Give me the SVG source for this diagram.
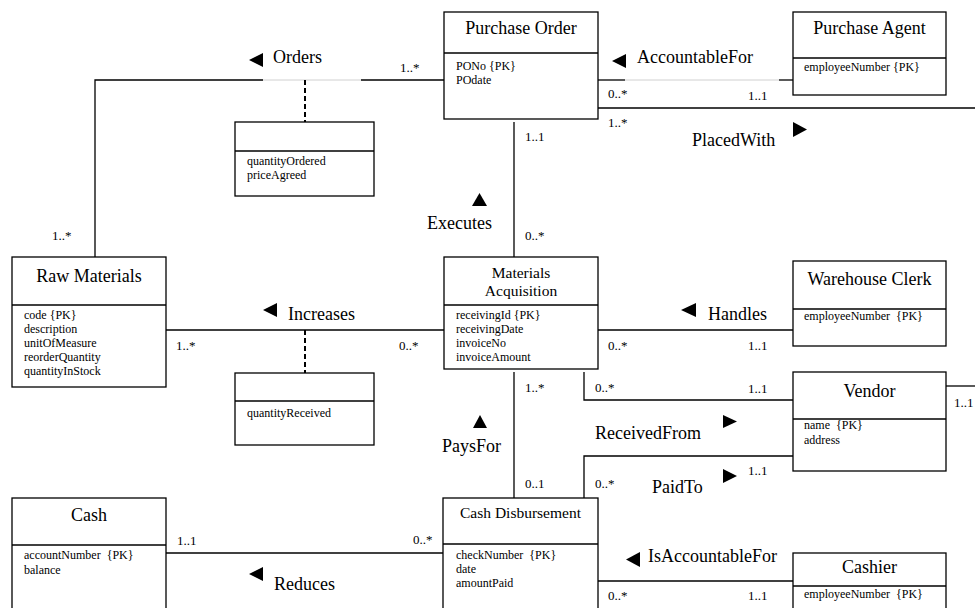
<svg xmlns="http://www.w3.org/2000/svg" width="975" height="608" viewBox="0 0 975 608">
  <style>
    text { font-family: "Liberation Serif", "Times New Roman", serif; fill: #000; }
    .box { fill: #fff; stroke: #000; stroke-width: 1.3; }
    .div { stroke: #000; stroke-width: 1.3; }
    .title { font-size: 18px; text-anchor: middle; }
    .title2 { font-size: 15.5px; text-anchor: middle; }
    .attr { font-size: 12px; }
    .mult { font-size: 13px; }
    .assoc { font-size: 18px; }
    .line { fill: none; stroke: #000; stroke-width: 1.3; }
    .faint { fill: none; stroke: #d0d0d0; stroke-width: 1; }
    .dash { fill: none; stroke: #000; stroke-width: 2; stroke-dasharray: 5 3; }
    .tri { fill: #000; }
  </style>

  <!-- association lines -->
  <g id="connectors">
    <!-- Orders: Raw Materials - Purchase Order -->
    <polyline class="line" points="95,257 95,80 263,80"/>
    <line class="faint" x1="263" y1="80" x2="361" y2="80"/>
    <line class="line" x1="361" y1="80" x2="444" y2="80"/>
    <line class="dash" x1="305" y1="80" x2="305" y2="122"/>
    <!-- AccountableFor -->
    <line class="line" x1="598" y1="80" x2="625" y2="80"/>
    <line class="faint" x1="625" y1="80" x2="779" y2="80"/>
    <line class="line" x1="779" y1="80" x2="793" y2="80"/>
    <!-- PlacedWith -->
    <line class="line" x1="598" y1="108" x2="975" y2="108"/>
    <!-- Executes -->
    <line class="line" x1="514" y1="122" x2="514" y2="257"/>
    <!-- Increases -->
    <line class="line" x1="166" y1="330" x2="444" y2="330"/>
    <line class="dash" x1="305" y1="330" x2="305" y2="373"/>
    <!-- Handles -->
    <line class="line" x1="598" y1="330" x2="793" y2="330"/>
    <!-- Vendor side of PlacedWith -->
    <line class="line" x1="946" y1="386" x2="975" y2="386"/>
    <!-- ReceivedFrom -->
    <polyline class="line" points="584,372 584,400 793,400"/>
    <!-- PaysFor -->
    <line class="line" x1="514" y1="372" x2="514" y2="498"/>
    <!-- PaidTo -->
    <polyline class="line" points="584,498 584,456 793,456"/>
    <!-- Reduces -->
    <line class="line" x1="166" y1="553" x2="443" y2="553"/>
    <!-- IsAccountableFor -->
    <line class="line" x1="598" y1="581" x2="793" y2="581"/>

    <!-- reading-direction triangles -->
    <polygon class="tri" points="249,60 263,53 263,67"/>
    <polygon class="tri" points="612,61 626,54 626,68"/>
    <polygon class="tri" points="793,122 807,129.5 793,137"/>
    <polygon class="tri" points="479.5,193 472,206 487,206"/>
    <polygon class="tri" points="263,310 277,303 277,317"/>
    <polygon class="tri" points="681,310 696,303 696,317"/>
    <polygon class="tri" points="723,415 737,421.5 723,428"/>
    <polygon class="tri" points="480,415 473,428 487,428"/>
    <polygon class="tri" points="723,469 737,476 723,483"/>
    <polygon class="tri" points="249,574 263,567 263,581"/>
    <polygon class="tri" points="626,559.5 640,552 640,567"/>

    <!-- association names -->
    <text class="assoc" x="273" y="63">Orders</text>
    <text class="assoc" x="637" y="63">AccountableFor</text>
    <text class="assoc" x="692" y="146">PlacedWith</text>
    <text class="assoc" x="427" y="229">Executes</text>
    <text class="assoc" x="288" y="320">Increases</text>
    <text class="assoc" x="708" y="320">Handles</text>
    <text class="assoc" x="595" y="439">ReceivedFrom</text>
    <text class="assoc" x="442" y="452">PaysFor</text>
    <text class="assoc" x="652" y="493">PaidTo</text>
    <text class="assoc" x="274" y="590">Reduces</text>
    <text class="assoc" x="648" y="562">IsAccountableFor</text>

    <!-- multiplicities -->
    <text class="mult" x="400" y="72">1..*</text>
    <text class="mult" x="52" y="240">1..*</text>
    <text class="mult" x="608" y="98">0..*</text>
    <text class="mult" x="748" y="100">1..1</text>
    <text class="mult" x="608" y="127">1..*</text>
    <text class="mult" x="525" y="141">1..1</text>
    <text class="mult" x="525" y="240">0..*</text>
    <text class="mult" x="176" y="350">1..*</text>
    <text class="mult" x="399" y="350">0..*</text>
    <text class="mult" x="608" y="350">0..*</text>
    <text class="mult" x="748" y="350">1..1</text>
    <text class="mult" x="525" y="392">1..*</text>
    <text class="mult" x="595" y="392">0..*</text>
    <text class="mult" x="748" y="393">1..1</text>
    <text class="mult" x="954" y="407">1..1</text>
    <text class="mult" x="748" y="475">1..1</text>
    <text class="mult" x="525" y="488">0..1</text>
    <text class="mult" x="595" y="488">0..*</text>
    <text class="mult" x="177" y="545">1..1</text>
    <text class="mult" x="413" y="544">0..*</text>
    <text class="mult" x="608" y="600">0..*</text>
    <text class="mult" x="748" y="600">1..1</text>
  </g>

  <!-- association classes -->
  <g id="orders-attributes">
    <rect class="box" x="235" y="122" width="139" height="74"/>
    <line class="div" x1="235" y1="151" x2="374" y2="151"/>
    <text class="attr" x="247" y="165">quantityOrdered</text>
    <text class="attr" x="247" y="179">priceAgreed</text>
  </g>
  <g id="increases-attributes">
    <rect class="box" x="235" y="373" width="139" height="72"/>
    <line class="div" x1="235" y1="401" x2="374" y2="401"/>
    <text class="attr" x="247" y="417">quantityReceived</text>
  </g>

  <!-- classes -->
  <g id="purchase-order">
    <rect class="box" x="444" y="12" width="154" height="107"/>
    <line class="div" x1="444" y1="53" x2="598" y2="53"/>
    <text class="title" x="521" y="34">Purchase Order</text>
    <text class="attr" x="456" y="70">PONo {PK}</text>
    <text class="attr" x="456" y="84">POdate</text>
  </g>
  <g id="purchase-agent">
    <rect class="box" x="793" y="12" width="153" height="83"/>
    <line class="div" x1="793" y1="58" x2="946" y2="58"/>
    <text class="title" x="869.5" y="34">Purchase Agent</text>
    <text class="attr" x="804" y="71">employeeNumber {PK}</text>
  </g>
  <g id="raw-materials">
    <rect class="box" x="12" y="257" width="154" height="130"/>
    <line class="div" x1="12" y1="305" x2="166" y2="305"/>
    <text class="title" x="89" y="282">Raw Materials</text>
    <text class="attr" x="24" y="319">code {PK}</text>
    <text class="attr" x="24" y="333">description</text>
    <text class="attr" x="24" y="347">unitOfMeasure</text>
    <text class="attr" x="24" y="361">reorderQuantity</text>
    <text class="attr" x="24" y="375">quantityInStock</text>
  </g>
  <g id="materials-acquisition">
    <rect class="box" x="444" y="257" width="154" height="112"/>
    <line class="div" x1="444" y1="305" x2="598" y2="305"/>
    <text class="title2" x="521" y="278">Materials</text>
    <text class="title2" x="521" y="296">Acquisition</text>
    <text class="attr" x="456" y="319">receivingId {PK}</text>
    <text class="attr" x="456" y="333">receivingDate</text>
    <text class="attr" x="456" y="347">invoiceNo</text>
    <text class="attr" x="456" y="361">invoiceAmount</text>
  </g>
  <g id="warehouse-clerk">
    <rect class="box" x="793" y="261" width="153" height="85"/>
    <line class="div" x1="793" y1="309" x2="946" y2="309"/>
    <text class="title" x="869.5" y="285">Warehouse Clerk</text>
    <text class="attr" x="804" y="320" xml:space="preserve">employeeNumber  {PK}</text>
  </g>
  <g id="vendor">
    <rect class="box" x="793" y="372" width="153" height="99"/>
    <line class="div" x1="793" y1="419" x2="946" y2="419"/>
    <text class="title" x="869.5" y="397">Vendor</text>
    <text class="attr" x="804" y="429" xml:space="preserve">name  {PK}</text>
    <text class="attr" x="804" y="444">address</text>
  </g>
  <g id="cash">
    <rect class="box" x="12" y="498" width="154" height="125"/>
    <line class="div" x1="12" y1="545" x2="166" y2="545"/>
    <text class="title" x="89" y="521">Cash</text>
    <text class="attr" x="24" y="559" xml:space="preserve">accountNumber  {PK}</text>
    <text class="attr" x="24" y="574">balance</text>
  </g>
  <g id="cash-disbursement">
    <rect class="box" x="443" y="498" width="155" height="125"/>
    <line class="div" x1="443" y1="544" x2="598" y2="544"/>
    <text class="title2" x="520.5" y="518">Cash Disbursement</text>
    <text class="attr" x="456" y="559" xml:space="preserve">checkNumber  {PK}</text>
    <text class="attr" x="456" y="573">date</text>
    <text class="attr" x="456" y="587">amountPaid</text>
  </g>
  <g id="cashier">
    <rect class="box" x="793" y="553" width="153" height="70"/>
    <line class="div" x1="793" y1="586" x2="946" y2="586"/>
    <text class="title" x="869.5" y="573">Cashier</text>
    <text class="attr" x="804" y="598" xml:space="preserve">employeeNumber  {PK}</text>
  </g>
</svg>
